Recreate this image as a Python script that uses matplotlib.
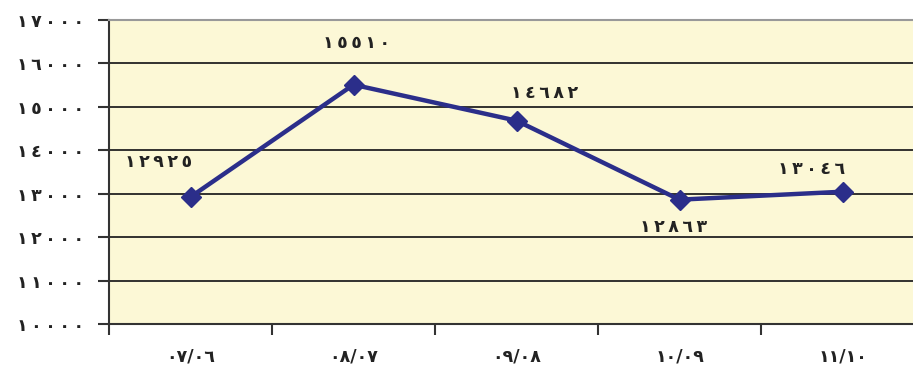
import matplotlib.pyplot as plt
import numpy as np

plt.rcParams['font.family'] = ['DejaVu Sans']

# data
periods = ['٠٧/٠٦', '٠٨/٠٧', '٠٩/٠٨', '١٠/٠٩', '١١/١٠']
values = [12925, 15510, 14682, 12863, 13046]
value_labels = ['١٢٩٢٥', '١٥٥١٠', '١٤٦٨٢', '١٢٨٦٣', '١٣٠٤٦']
yticks = [10000, 11000, 12000, 13000, 14000, 15000, 16000, 17000]
ytick_labels = ['١٠٠٠٠', '١١٠٠٠', '١٢٠٠٠', '١٣٠٠٠', '١٤٠٠٠', '١٥٠٠٠', '١٦٠٠٠', '١٧٠٠٠']

def spaced(s):
    return '\u2009'.join(s)

fig = plt.figure(figsize=(9.13, 3.76), dpi=100)
ax = fig.add_axes([109 / 913, 1 - 324 / 376, 815 / 913, 304 / 376])
ax.set_facecolor('#fcf8d6')

x = np.arange(len(values))
ax.plot(x, values, color='#2b2e8a', lw=3.2, marker='D', ms=10, zorder=3)

ax.set_xlim(-0.5, 4.5)
ax.set_ylim(10000, 17000)
ax.set_yticks(yticks)
ax.set_yticklabels([spaced(t) for t in ytick_labels], fontsize=12.5, fontweight='bold', color='#222222')
ax.set_xticks(np.arange(-0.5, 5, 1))
ax.set_xticklabels([])
ax.set_xticks(x, minor=True)
ax.set_xticklabels(periods, minor=True, fontsize=12.5, fontweight='bold', color='#222222')
ax.tick_params(axis='x', which='minor', length=0, pad=17)
ax.tick_params(axis='x', which='major', length=8, width=1.5, direction='out', color='#333333')
ax.tick_params(axis='y', length=8, width=1.5, direction='out', color='#333333', pad=10)

ax.yaxis.grid(True, color='#222222', lw=1.3)
ax.set_axisbelow(True)
ax.spines['right'].set_visible(False)
ax.spines['top'].set_color('#999999')
ax.spines['top'].set_linewidth(1.5)
ax.spines['left'].set_linewidth(1.5)
ax.spines['bottom'].set_linewidth(1.5)
ax.spines['left'].set_color('#333333')
ax.spines['bottom'].set_color('#333333')

offsets = [(-23, 25), (2, 30), (20, 20), (-4, -20), (-22, 16)]
for xi, v, lab, (dx, dy) in zip(x, values, value_labels, offsets):
    ax.annotate(spaced(lab), (xi, v), xytext=(dx, dy), textcoords='offset points',
                ha='center', va='center', fontsize=12.5, fontweight='bold', color='#222222')

fig.savefig('out.png', dpi=100)
